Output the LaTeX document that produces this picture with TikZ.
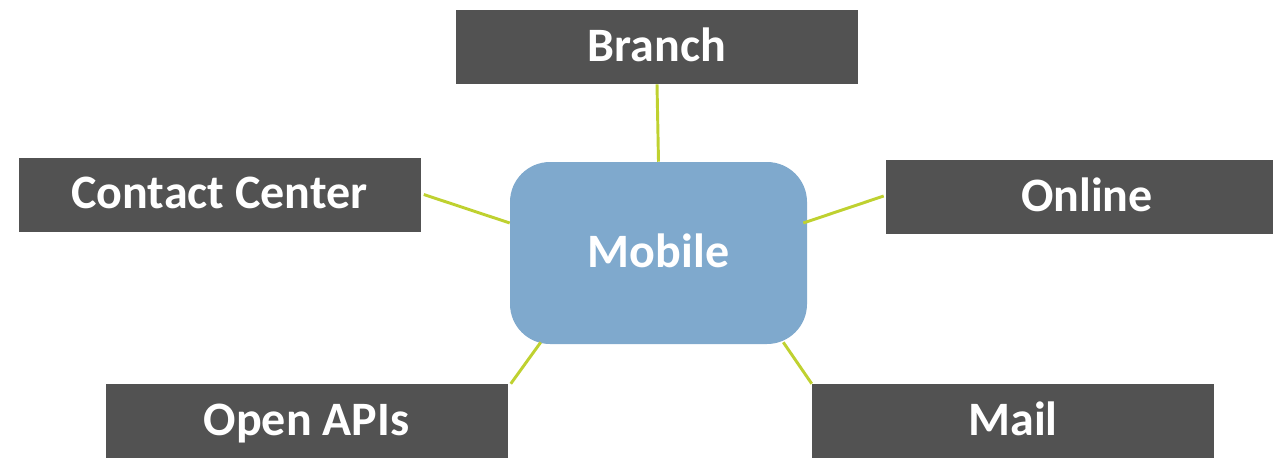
\documentclass[tikz,border=0pt]{standalone}
\usepackage{fontspec}
\setmainfont{Carlito}
\usetikzlibrary{calc}

\definecolor{chanbox}{HTML}{525252}
\definecolor{mobfill}{HTML}{7FA9CD}
\definecolor{linkgreen}{HTML}{BFD130}

\tikzset{
  chantext/.style={font=\fontsize{36}{44}\selectfont\bfseries, text height=23.5pt, text depth=2pt},
  channel/.style={chantext, fill=chanbox, text=white, minimum width=301.5pt, minimum height=55.5pt,
    inner sep=0pt},
  hub/.style={chantext, fill=mobfill, text=white, rounded corners=30pt, minimum width=222.75pt,
    minimum height=136.5pt, inner sep=0pt},
  link/.style={draw=linkgreen, line width=2.2pt}
}

\begin{document}
\begin{tikzpicture}[x=0.75pt,y=0.75pt,yscale=-1,xscale=1]
\clip (0,0) rectangle (1273,457);
\useasboundingbox (0,0) rectangle (1273,457);

% centre box
\node[hub] (mobile) at (658.5,253) {Mobile};

% channel boxes
\node[channel] (branch) at (657,47) {Branch};
\node[channel] (contact) at (219.5,194.5) {Contact Center};
\node[channel] (online) at (1087,197) {Online};
\node[channel] (openapis) at (306.5,421) {Open APIs};
\node[channel] (mail) at (1013,421) {Mail};

% links to the centre
\draw[link] (branch.south) -- (mobile.north);
\draw[link] ($(contact.east)+(3,0)$) -- ($(mobile.west)+(0,-30)$);
\draw[link] ($(mobile.east)+(-4,-30)$) -- ($(online.west)+(-2,-1)$);
\draw[link] ($(openapis.north east)+(3,0)$) -- ($(mobile.south west)+(31,-2)$);
\draw[link] (mail.north west) -- ($(mobile.south east)+(-24,-2)$);
\end{tikzpicture}
\end{document}
